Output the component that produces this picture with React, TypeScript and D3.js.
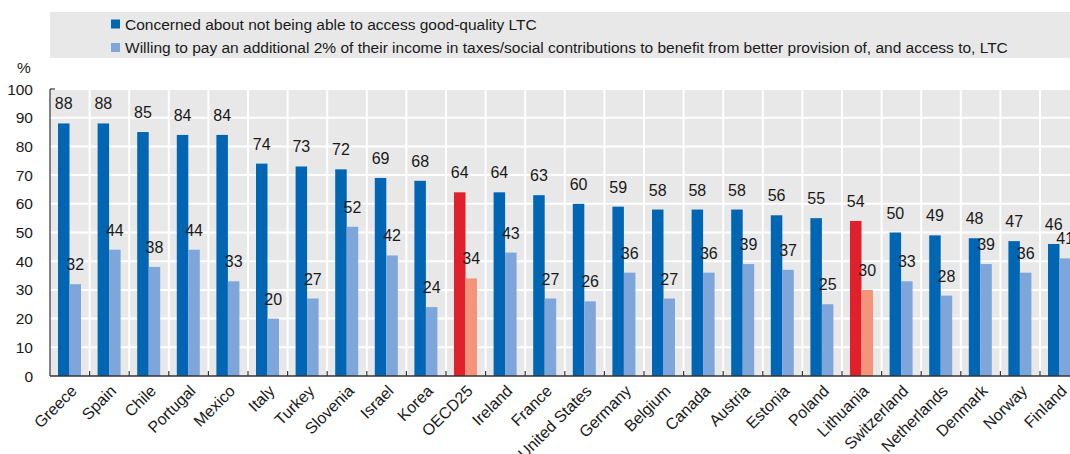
import React from "react";
import * as d3 from "d3";

// Share of respondents (%) by country
const countries = [
  "Greece", "Spain", "Chile", "Portugal", "Mexico", "Italy", "Turkey", "Slovenia",
  "Israel", "Korea", "OECD25", "Ireland", "France", "United States", "Germany",
  "Belgium", "Canada", "Austria", "Estonia", "Poland", "Lithuania", "Switzerland",
  "Netherlands", "Denmark", "Norway", "Finland",
];
const concerned = [88, 88, 85, 84, 84, 74, 73, 72, 69, 68, 64, 64, 63, 60, 59, 58, 58, 58, 56, 55, 54, 50, 49, 48, 47, 46];
const willing = [32, 44, 38, 44, 33, 20, 27, 52, 42, 24, 34, 43, 27, 26, 36, 27, 36, 39, 37, 25, 30, 33, 28, 39, 36, 41];
const yTicks = [0, 10, 20, 30, 40, 50, 60, 70, 80, 90, 100];
const highlighted = ["OECD25", "Lithuania"];

const legendLabels = [
  "Concerned about not being able to access good-quality LTC",
  "Willing to pay an additional 2% of their income in taxes/social contributions to benefit from better provision of, and access to, LTC",
];

const W = 1070;
const H = 454;
const plotLeft = 50;
const bandW = 39.6;
const plotRight = plotLeft + bandW * countries.length;
const plotTop = 89;
const plotBottom = 376;

const DARK = "#0066b3";
const LIGHT = "#7ea6da";
const RED = "#e0202b";
const SALMON = "#f59479";
const BG = "#e8e8e8";
const TEXT = "#1a1a1a";
const FONT = "'Liberation Sans', Arial, sans-serif";

export default function App() {
  const x = d3.scaleBand<string>().domain(countries).range([plotLeft, plotRight]).paddingInner(0).paddingOuter(0);
  const y = d3.scaleLinear().domain([0, 100]).range([plotBottom, plotTop]);
  const barW = 11.5;
  const offset = 8;

  return (
    <svg
      width={W}
      height={H}
      style={{ position: "absolute", left: 0, top: 0, overflow: "hidden", background: "#fff" }}
      fontFamily={FONT}
    >
      {/* legend */}
      <rect x={50} y={12} width={W - 50} height={46} fill={BG} />
      {legendLabels.map((t, i) => (
        <g key={t}>
          <rect x={111} y={19.5 + i * 23.5} width={9} height={9} fill={i === 0 ? DARK : LIGHT} />
          <text x={125} y={29.5 + i * 23.5} fontSize={15.5} fill={TEXT}>{t}</text>
        </g>
      ))}

      {/* plot background and grid */}
      <rect x={plotLeft} y={plotTop} width={plotRight - plotLeft} height={plotBottom - plotTop} fill={BG} />
      {yTicks.filter((v) => v > 0).map((v) => (
        <line key={v} x1={plotLeft} x2={plotRight} y1={y(v)} y2={y(v)} stroke="#fff" strokeWidth={2} />
      ))}
      {countries.slice(1).map((c) => (
        <line key={c} x1={x(c)!} x2={x(c)!} y1={plotTop} y2={plotBottom} stroke="#fff" strokeWidth={2} />
      ))}

      {/* y axis labels */}
      <text x={17} y={73} fontSize={15.5} fill={TEXT}>%</text>
      {yTicks.map((v) => (
        <text key={v} x={33} y={y(v) + 5.5} fontSize={15.5} textAnchor="end" fill={TEXT}>{v}</text>
      ))}

      {/* bars */}
      {countries.map((c, i) => {
        const hi = highlighted.includes(c);
        const x0 = x(c)! + offset;
        return (
          <g key={c}>
            <rect x={x0} y={y(concerned[i])} width={barW} height={plotBottom - y(concerned[i])} fill={hi ? RED : DARK} />
            <rect x={x0 + barW} y={y(willing[i])} width={barW} height={plotBottom - y(willing[i])} fill={hi ? SALMON : LIGHT} />
            <text x={x0 + barW / 2} y={y(concerned[i]) - 14} fontSize={16} textAnchor="middle" fill={TEXT}>{concerned[i]}</text>
            <text x={x0 + barW * 1.5} y={y(willing[i]) - 14} fontSize={16} textAnchor="middle" fill={TEXT}>{willing[i]}</text>
          </g>
        );
      })}

      {/* axes */}
      <line x1={plotLeft} x2={plotLeft} y1={plotTop} y2={plotBottom} stroke="#333" strokeWidth={1.2} />
      <line x1={plotLeft} x2={plotLeft + 5} y1={plotTop} y2={plotTop} stroke="#333" strokeWidth={1.2} />
      <line x1={plotLeft} x2={plotRight} y1={plotBottom} y2={plotBottom} stroke="#333" strokeWidth={1.5} />
      {countries.slice(1).map((c) => (
        <line key={c} x1={x(c)!} x2={x(c)!} y1={plotBottom} y2={plotBottom - 5} stroke="#333" strokeWidth={1.2} />
      ))}

      {/* category labels */}
      {countries.map((c) => {
        const cx = x(c)! + bandW / 2 + 4;
        const cy = plotBottom + 12;
        return (
          <text key={c} transform={`translate(${cx},${cy}) rotate(-45)`} fontSize={16} textAnchor="end" fill={TEXT} dy="0.35em">
            {c}
          </text>
        );
      })}
    </svg>
  );
}
